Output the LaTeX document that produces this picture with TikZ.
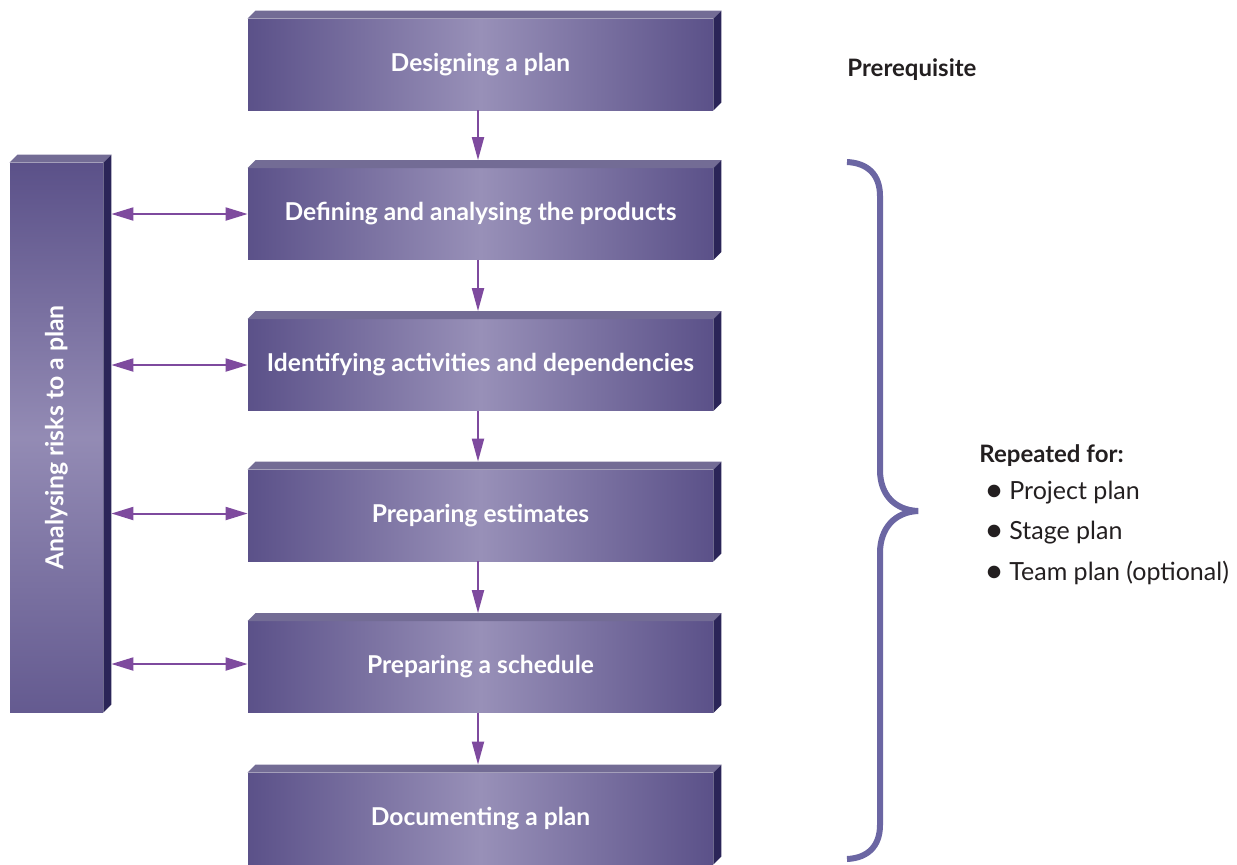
\documentclass[tikz,border=0pt]{standalone}
\usepackage{fontspec}
\usepackage{graphicx}
\setmainfont{Lato}
\usetikzlibrary{arrows.meta,calc}
\definecolor{edgeP}{HTML}{5B5189}
\definecolor{midP}{HTML}{9890B8}
\definecolor{topP}{HTML}{736C95}
\definecolor{sideP}{HTML}{2B2558}
\definecolor{arrP}{HTML}{7E4A9E}
\definecolor{braceP}{HTML}{6B66A3}
\definecolor{txtC}{HTML}{231F20}
\newcommand{\boxfaces}[1]{%
  \fill[topP] (#1.north west) -- ++(8,-8) -- ($(#1.north east)+(8,-8)$) -- (#1.north east) -- cycle;
  \fill[sideP] (#1.north east) -- ++(8,-8) -- ($(#1.south east)+(8,-8)$) -- (#1.south east) -- cycle;}
\newcommand{\bigbullet}{\makebox[12.5pt][l]{\raisebox{-0.15ex}{\scalebox{1.35}{\textbullet}}}}
\begin{document}
\begin{tikzpicture}[x=0.5pt,y=-0.5pt,
  stepbox/.style={minimum width=232.5pt, minimum height=45.5pt, inner sep=0pt,
    left color=edgeP, right color=edgeP, middle color=midP,
    text=white, font=\bfseries\fontsize{12.3}{14}\selectfont},
  riskbox/.style={minimum width=46.5pt, minimum height=274.5pt, inner sep=0pt,
    top color=edgeP, bottom color=edgeP!85!midP, middle color=midP!92!edgeP,
    text=white, font=\bfseries\fontsize{12.4}{14}\selectfont},
  downarrow/.style={arrP, line width=1pt, -{Triangle[length=11.5pt,width=6pt]}},
  dblarrow/.style={arrP, line width=1pt, {Triangle[length=11pt,width=6.5pt]}-{Triangle[length=11pt,width=6.5pt]}},
  brace/.style={braceP, line width=3pt},
  plain/.style={anchor=west, inner sep=0pt, text=txtC, font=\fontsize{12.5}{14}\selectfont},
  heading/.style={plain, font=\bfseries\fontsize{12}{14}\selectfont}]
\useasboundingbox (0,0) rectangle (1237,864);

% process boxes
\node[stepbox] (d1) at (480.5,64.5) {Designing a plan};
\node[stepbox] (d2) at (480.5,214) {Defining and analysing the products};
\node[stepbox] (d3) at (480.5,365) {Identifying activities and dependencies};
\node[stepbox] (d4) at (480.5,515.5) {Preparing estimates};
\node[stepbox] (d5) at (480.5,667) {Preparing a schedule};
\node[stepbox] (d6) at (480.5,818.5) {Documenting a plan};
\foreach \n in {d1,d2,d3,d4,d5,d6} {\boxfaces{\n}}

% risk box
\node[riskbox] (risk) at (56.5,437.5) {\rotatebox{90}{Analysing risks to a plan}};
\boxfaces{risk}
\coordinate (rface) at ($(risk.east)+(8,0)$);

% vertical arrows
\draw[downarrow] ([xshift=-1.25pt]d1.south) -- ($([xshift=-1.25pt]d2.north)+(0,-8)$);
\draw[downarrow] ([xshift=-1.25pt]d2.south) -- ($([xshift=-1.25pt]d3.north)+(0,-8)$);
\draw[downarrow] ([xshift=-1.25pt]d3.south) -- ($([xshift=-1.25pt]d4.north)+(0,-8)$);
\draw[downarrow] ([xshift=-1.25pt]d4.south) -- ($([xshift=-1.25pt]d5.north)+(0,-8)$);
\draw[downarrow] ([xshift=-1.25pt]d5.south) -- ($([xshift=-1.25pt]d6.north)+(0,-8)$);

% double arrows
\draw[dblarrow] (rface |- d2.west) -- (d2.west);
\draw[dblarrow] (rface |- d3.west) -- (d3.west);
\draw[dblarrow] ($(rface |- d4.west)+(0,-2)$) -- ($(d4.west)+(0,-2)$);
\draw[dblarrow] ($(rface |- d5.west)+(0,-3)$) -- ($(d5.west)+(0,-3)$);

% brace
\draw[brace] (847,162) .. controls (868,163) and (880,175) .. (880,196)
  -- (880,470) .. controls (880,495) and (895,510) .. (918,511)
  .. controls (895,512) and (880,528) .. (880,553)
  -- (880,825) .. controls (880,846) and (868,858) .. (847,859);

% texts
\node[heading] (pre) at (847,70) {Prerequisite};
\node[heading] (rep) at (979,456) {Repeated for:};
\node[plain] (b1) at (984,493) {\bigbullet Project plan};
\node[plain] (b2) at (984,533) {\bigbullet Stage plan};
\node[plain] (b3) at (984,573) {\bigbullet Team plan (optional)};
\end{tikzpicture}
\end{document}
